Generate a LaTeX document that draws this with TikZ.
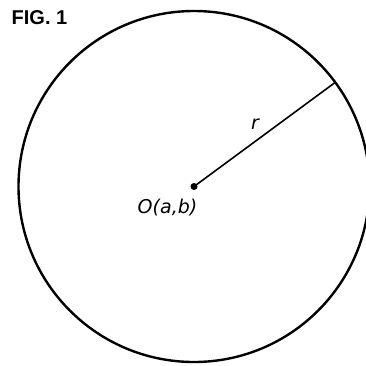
\documentclass[tikz,border=0pt]{standalone}
\usepackage{fontspec}
\setmainfont{Liberation Sans}
\newfontfamily\labelfont{DejaVu Sans}
\usepackage{tikz}
\usetikzlibrary{calc}

\begin{document}
\begin{tikzpicture}[
  x=1pt, y=-1pt,
  rim/.style={line width=2.4pt},
  radiusline/.style={line width=1.6pt},
  dot/.style={circle, fill, inner sep=0pt, minimum size=7pt},
  lbl/.style={font=\labelfont\itshape\fontsize{19}{21}\selectfont, inner sep=0pt}
]
\useasboundingbox (0,0) rectangle (366,365);

%% Title
\node[font=\bfseries\fontsize{20}{22}\selectfont, inner sep=0pt] (title) at (39.5,17.5) {FIG. 1};

%% Circle and centre
\node[dot] (O) at (194,186.5) {};
\draw[rim] (O.center) circle[radius=175.5];

%% Radius
\coordinate (P) at ($(O.center)+(-36.4:175.5)$);
\draw[radiusline] (O.center) -- (P);

%% Labels
\node[lbl] (rlab) at (255,124) {r};
\node[lbl] (olab) at (167.5,207.5) {O(a,b)};

\end{tikzpicture}
\end{document}
